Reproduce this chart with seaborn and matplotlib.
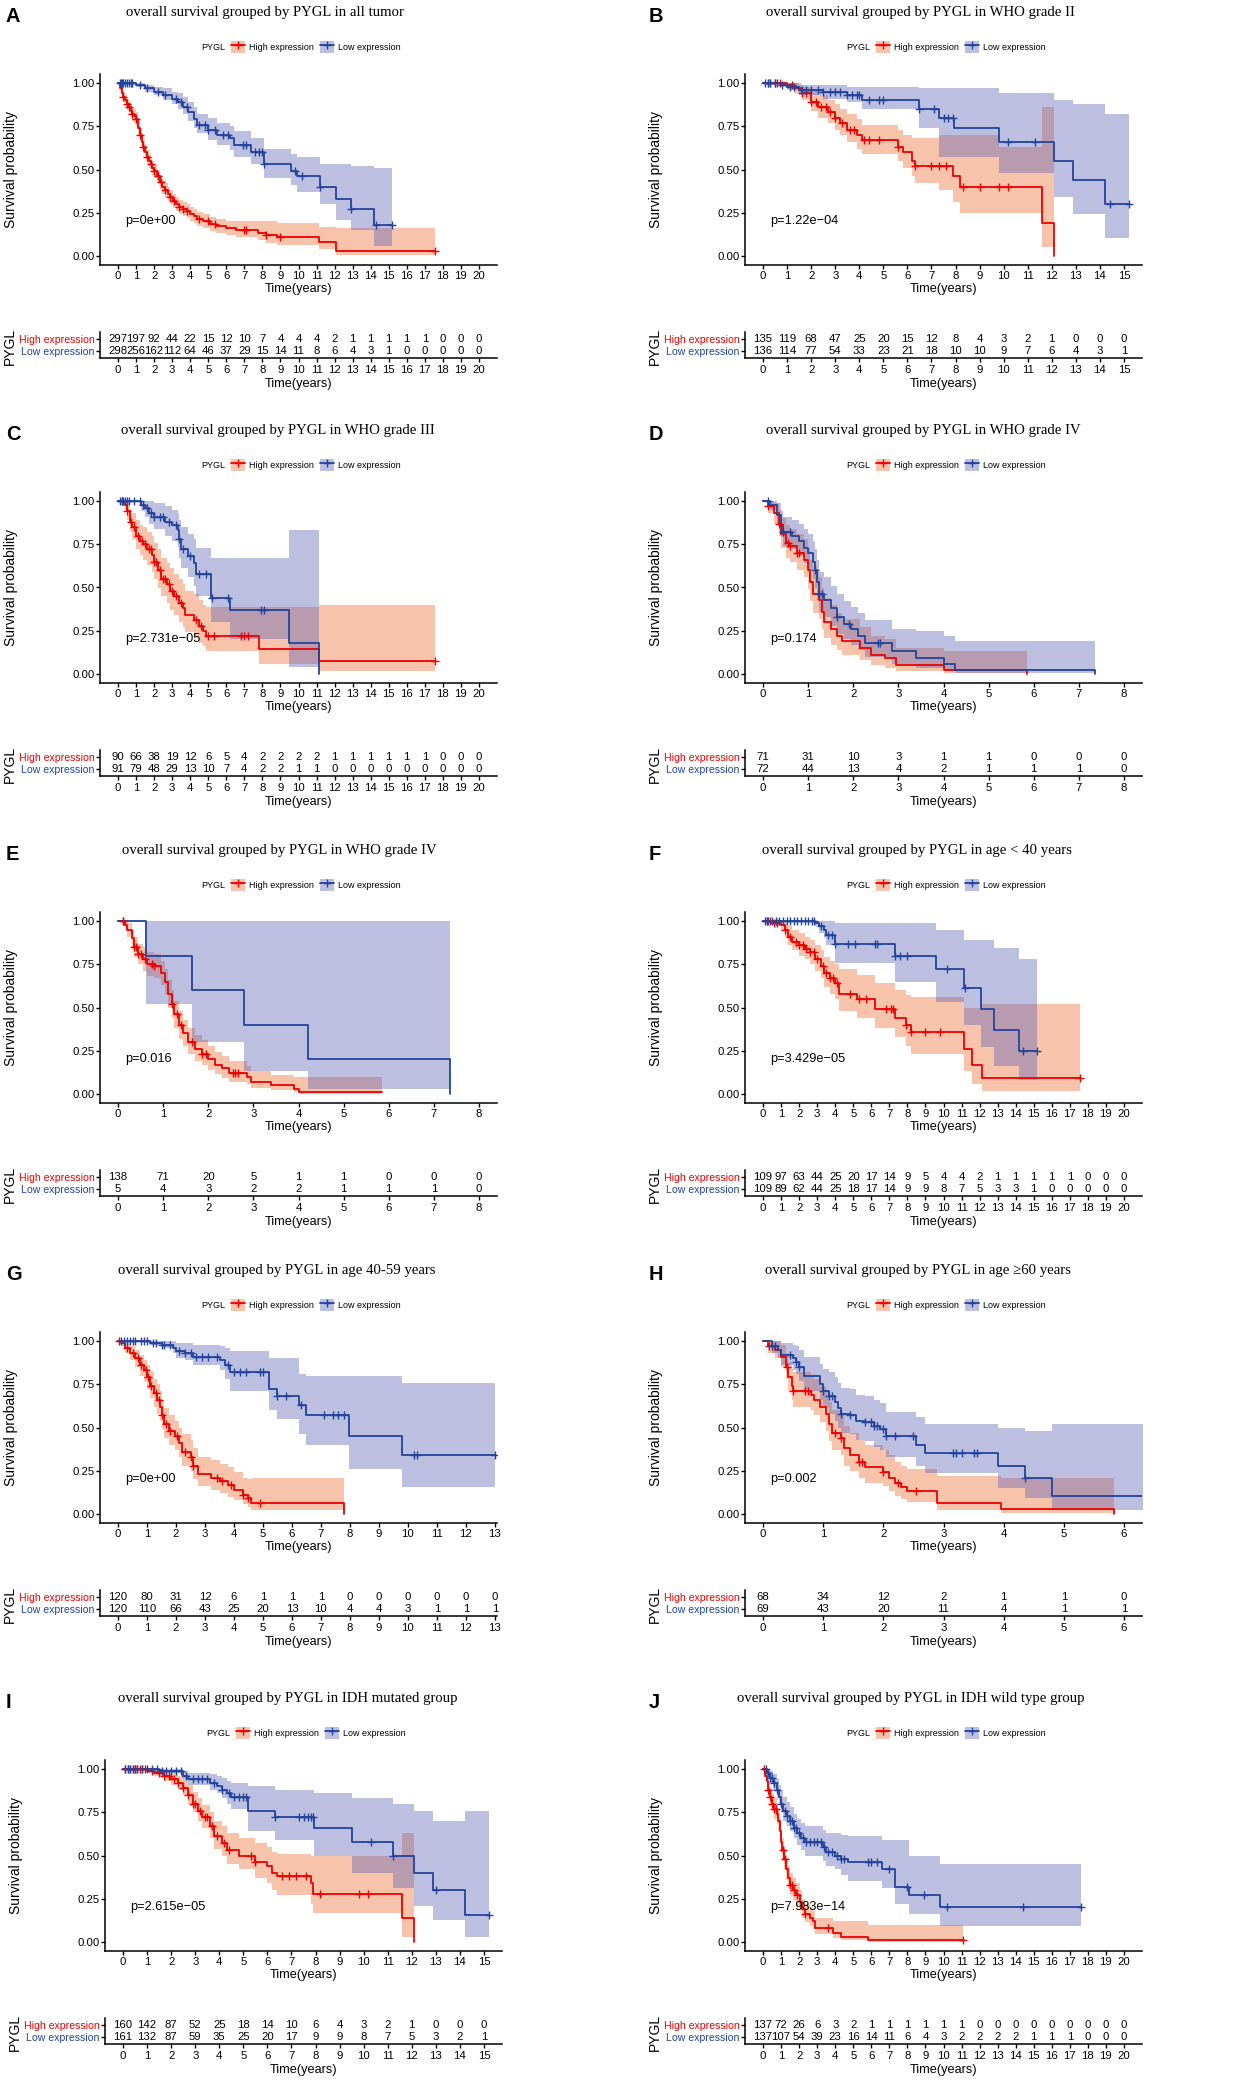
import numpy as np
import matplotlib
matplotlib.use("Agg")
import matplotlib.pyplot as plt
from matplotlib.patches import Patch
from matplotlib.lines import Line2D
import seaborn as sns

# ---------------- data ----------------
# each curve: step times, survival after step, CI lower, CI upper, censor times

# A  all tumor
A_high_t = [0, 0.1, 0.2, 0.3, 0.4, 0.5, 0.6, 0.7, 0.8, 0.9, 1.0, 1.1, 1.2, 1.3, 1.4, 1.5, 1.6, 1.7, 1.8, 1.9, 2.0,
            2.15, 2.3, 2.45, 2.6, 2.75, 2.9, 3.05, 3.2, 3.4, 3.6, 3.8, 4.0, 4.2, 4.4, 4.7, 5.1, 5.45, 6.0, 6.55,
            7.75, 8.2, 8.8, 11.15, 12.1, 17.56]
A_high_s = [1, 0.97, 0.945, 0.92, 0.90, 0.88, 0.86, 0.84, 0.82, 0.81, 0.79, 0.74, 0.70, 0.66, 0.63, 0.60, 0.57, 0.55,
            0.53, 0.51, 0.49, 0.46, 0.43, 0.40, 0.38, 0.36, 0.34, 0.32, 0.30, 0.285, 0.27, 0.26, 0.245, 0.23, 0.215,
            0.20, 0.185, 0.172, 0.16, 0.15, 0.13, 0.12, 0.11, 0.083, 0.03, 0.03]
A_high_lo = [1, 0.95, 0.92, 0.89, 0.87, 0.85, 0.82, 0.80, 0.78, 0.77, 0.75, 0.70, 0.66, 0.62, 0.59, 0.56, 0.53, 0.51,
             0.49, 0.47, 0.45, 0.42, 0.39, 0.36, 0.34, 0.32, 0.30, 0.28, 0.26, 0.245, 0.23, 0.22, 0.205, 0.19, 0.175,
             0.16, 0.145, 0.135, 0.12, 0.11, 0.09, 0.075, 0.065, 0.04, 0.006, 0.006]
A_high_hi = [1, 0.99, 0.97, 0.95, 0.93, 0.91, 0.89, 0.88, 0.86, 0.85, 0.83, 0.78, 0.74, 0.70, 0.67, 0.64, 0.61, 0.59,
             0.57, 0.55, 0.53, 0.50, 0.47, 0.44, 0.42, 0.40, 0.38, 0.36, 0.34, 0.325, 0.31, 0.30, 0.285, 0.27, 0.255,
             0.24, 0.225, 0.215, 0.205, 0.20, 0.20, 0.20, 0.19, 0.165, 0.163, 0.163]
A_high_cens = [0.3, 0.5, 0.6, 0.8, 1.0, 1.2, 1.4, 1.6, 1.8, 2.0, 2.2, 2.4, 2.6, 2.9, 3.1, 3.4, 3.6, 3.8, 4.5, 5.0,
               5.4, 7.0, 7.1, 8.2, 9.0, 17.56]
A_low_t = [0, 1.0, 1.5, 2.0, 2.5, 3.0, 3.3, 3.6, 3.9, 4.2, 4.4, 5.0, 5.5, 6.2, 6.4, 7.35, 8.1, 9.6, 9.9, 11.2, 12.1,
           12.9, 14.2, 15.2]
A_low_s = [1, 0.99, 0.97, 0.95, 0.93, 0.91, 0.89, 0.86, 0.83, 0.79, 0.76, 0.73, 0.70, 0.68, 0.64, 0.60, 0.53, 0.49,
           0.46, 0.40, 0.33, 0.27, 0.18, 0.18]
A_low_lo = [1, 0.98, 0.95, 0.93, 0.90, 0.88, 0.85, 0.82, 0.78, 0.74, 0.71, 0.67, 0.64, 0.61, 0.57, 0.53, 0.45, 0.41,
            0.37, 0.30, 0.21, 0.15, 0.06, 0.06]
A_low_hi = [1, 1, 0.99, 0.98, 0.97, 0.95, 0.94, 0.92, 0.89, 0.86, 0.82, 0.80, 0.77, 0.75, 0.72, 0.68, 0.62, 0.59,
            0.57, 0.53, 0.53, 0.52, 0.51, 0.51]
A_low_cens = [0.1, 0.15, 0.2, 0.3, 0.4, 0.5, 0.6, 0.7, 0.8, 1.2, 1.6, 2.2, 2.6, 3.2, 3.5, 3.8, 4.5, 4.8, 5.0, 5.4,
              5.8, 6.1, 6.9, 7.1, 7.6, 7.8, 8.0, 8.1, 9.8, 10.2, 11.2, 12.9, 14.3, 15.2]
A_risk_high = [297, 197, 92, 44, 22, 15, 12, 10, 7, 4, 4, 4, 2, 1, 1, 1, 1, 1, 0, 0, 0]
A_risk_low = [298, 256, 162, 112, 64, 46, 37, 29, 15, 14, 11, 8, 6, 4, 3, 1, 0, 0, 0, 0, 0]

# B  WHO grade II
B_high_t = [0, 1.0, 1.3, 1.6, 2.0, 2.3, 2.7, 3.0, 3.2, 3.5, 3.9, 4.1, 5.6, 5.8, 6.2, 6.3, 7.3, 7.9, 8.2, 9.8, 11.6, 12.1]
B_high_s = [1, 0.99, 0.97, 0.94, 0.89, 0.86, 0.83, 0.80, 0.77, 0.73, 0.70, 0.67, 0.63, 0.60, 0.55, 0.52, 0.52, 0.46,
            0.40, 0.40, 0.19, 0.0]
B_high_lo = [1, 0.97, 0.94, 0.90, 0.84, 0.80, 0.77, 0.73, 0.70, 0.66, 0.62, 0.59, 0.55, 0.51, 0.46, 0.42, 0.38, 0.31,
             0.25, 0.25, 0.05, 0.0]
B_high_hi = [1, 1, 1, 0.98, 0.95, 0.93, 0.90, 0.88, 0.85, 0.82, 0.79, 0.76, 0.73, 0.70, 0.68, 0.68, 0.70, 0.70,
             0.70, 0.63, 0.86, 0.0]
B_high_cens = [0.2, 0.3, 0.5, 0.7, 1.2, 1.6, 1.8, 2.0, 2.2, 2.4, 2.6, 2.8, 3.0, 3.3, 3.6, 3.8, 4.2, 4.4, 4.8, 5.6,
               6.3, 7.0, 7.3, 7.6, 8.3, 9.0, 9.8, 10.2]
B_low_t = [0, 0.8, 1.0, 1.5, 2.5, 3.5, 4.1, 6.5, 7.3, 7.95, 9.8, 12.1, 12.9, 14.2, 15.2]
B_low_s = [1, 0.99, 0.98, 0.96, 0.95, 0.93, 0.90, 0.85, 0.80, 0.74, 0.66, 0.55, 0.44, 0.30, 0.30]
B_low_lo = [1, 0.98, 0.96, 0.93, 0.91, 0.89, 0.85, 0.74, 0.57, 0.57, 0.48, 0.34, 0.24, 0.105, 0.105]
B_low_hi = [1, 1, 1, 0.99, 0.99, 0.98, 0.975, 0.97, 0.97, 0.97, 0.94, 0.90, 0.88, 0.82, 0.82]
B_low_cens = [0.1, 0.2, 0.3, 0.5, 0.6, 0.8, 1.1, 1.3, 1.6, 1.8, 2.0, 2.3, 2.5, 2.8, 3.0, 3.2, 3.5, 3.7, 3.9, 4.0,
              4.4, 4.8, 5.0, 6.5, 7.1, 7.5, 7.7, 7.9, 10.2, 11.3, 14.4, 15.2]
B_risk_high = [135, 119, 68, 47, 25, 20, 15, 12, 8, 4, 3, 2, 1, 0, 0, 0]
B_risk_low = [136, 114, 77, 54, 33, 23, 21, 18, 10, 10, 9, 7, 6, 4, 3, 1]

# C  WHO grade III
C_high_t = [0, 0.4, 0.5, 0.65, 0.8, 1.0, 1.2, 1.4, 1.6, 1.9, 2.0, 2.2, 2.4, 2.7, 2.9, 3.1, 3.4, 3.6, 3.7, 4.2, 4.5,
            4.7, 4.9, 7.8, 11.15, 17.56]
C_high_s = [1, 0.98, 0.94, 0.88, 0.85, 0.80, 0.77, 0.75, 0.72, 0.69, 0.65, 0.60, 0.55, 0.52, 0.48, 0.45, 0.41, 0.38,
            0.34, 0.31, 0.28, 0.25, 0.22, 0.145, 0.075, 0.075]
C_high_lo = [1, 0.95, 0.89, 0.82, 0.78, 0.72, 0.69, 0.66, 0.63, 0.59, 0.55, 0.50, 0.45, 0.41, 0.37, 0.34, 0.30, 0.27,
             0.24, 0.21, 0.18, 0.16, 0.13, 0.055, 0.015, 0.015]
C_high_hi = [1, 1, 0.99, 0.95, 0.93, 0.89, 0.86, 0.85, 0.82, 0.80, 0.76, 0.72, 0.67, 0.64, 0.61, 0.58, 0.55, 0.52,
             0.48, 0.46, 0.43, 0.40, 0.39, 0.39, 0.40, 0.40]
C_high_cens = [0.2, 0.5, 0.7, 0.9, 1.1, 1.3, 1.5, 1.7, 1.8, 2.0, 2.1, 2.3, 2.5, 2.6, 2.8, 3.0, 3.2, 3.5, 4.3, 4.6,
               5.0, 5.3, 6.8, 7.0, 7.2, 17.56]
C_low_t = [0, 1.25, 1.5, 1.7, 2.0, 2.6, 3.0, 3.3, 3.4, 3.5, 3.9, 4.2, 4.3, 5.15, 6.2, 9.5, 11.15]
C_low_s = [1, 0.98, 0.96, 0.93, 0.91, 0.88, 0.86, 0.83, 0.78, 0.72, 0.68, 0.64, 0.58, 0.44, 0.37, 0.18, 0.0]
C_low_lo = [1, 0.94, 0.91, 0.87, 0.84, 0.80, 0.77, 0.73, 0.67, 0.61, 0.56, 0.51, 0.45, 0.30, 0.20, 0.04, 0.0]
C_low_hi = [1, 1, 1, 1, 0.99, 0.97, 0.95, 0.93, 0.89, 0.85, 0.81, 0.78, 0.73, 0.67, 0.67, 0.83, 0.0]
C_low_cens = [0.1, 0.2, 0.3, 0.4, 0.5, 0.6, 0.9, 1.2, 1.4, 1.6, 1.8, 2.0, 2.3, 2.5, 2.8, 3.2, 3.4, 3.6, 4.0, 4.5,
              4.9, 5.2, 6.1, 7.9, 8.1]
C_risk_high = [90, 66, 38, 19, 12, 6, 5, 4, 2, 2, 2, 2, 1, 1, 1, 1, 1, 1, 0, 0, 0]
C_risk_low = [91, 79, 48, 29, 13, 10, 7, 4, 2, 2, 1, 1, 0, 0, 0, 0, 0, 0, 0, 0, 0]

# D  WHO grade IV
D_high_t = [0, 0.1, 0.25, 0.35, 0.4, 0.5, 0.6, 0.75, 0.9, 1.0, 1.05, 1.1, 1.25, 1.3, 1.35, 1.5, 1.65, 1.75, 2.15,
            2.4, 2.7, 2.95, 4.0, 5.85]
D_high_s = [1, 0.97, 0.93, 0.87, 0.81, 0.76, 0.74, 0.70, 0.66, 0.60, 0.53, 0.46, 0.43, 0.36, 0.30, 0.26, 0.22, 0.19,
            0.15, 0.11, 0.09, 0.05, 0.02, 0.0]
D_high_lo = [1, 0.93, 0.87, 0.80, 0.73, 0.67, 0.65, 0.60, 0.56, 0.49, 0.42, 0.35, 0.32, 0.26, 0.21, 0.17, 0.14, 0.11,
             0.08, 0.05, 0.035, 0.015, 0.004, 0.0]
D_high_hi = [1, 1, 0.99, 0.95, 0.90, 0.86, 0.84, 0.81, 0.78, 0.73, 0.66, 0.59, 0.56, 0.50, 0.44, 0.40, 0.35, 0.32,
             0.27, 0.22, 0.20, 0.15, 0.13, 0.0]
D_high_cens = [0.1, 0.35, 0.55, 0.6, 0.75, 0.8]
D_low_t = [0, 0.15, 0.3, 0.4, 0.45, 0.65, 0.8, 0.9, 1.0, 1.1, 1.15, 1.2, 1.25, 1.35, 1.5, 1.65, 1.8, 1.95, 2.1, 2.25,
           2.85, 3.4, 4.0, 4.25, 7.35]
D_low_s = [1, 0.98, 0.92, 0.86, 0.82, 0.80, 0.77, 0.73, 0.70, 0.65, 0.60, 0.53, 0.46, 0.43, 0.38, 0.33, 0.29, 0.26,
           0.22, 0.18, 0.13, 0.09, 0.055, 0.025, 0.0]
D_low_lo = [1, 0.95, 0.86, 0.79, 0.74, 0.72, 0.68, 0.64, 0.60, 0.55, 0.50, 0.43, 0.36, 0.33, 0.28, 0.23, 0.20, 0.17,
            0.14, 0.10, 0.06, 0.035, 0.015, 0.004, 0.0]
D_low_hi = [1, 1, 0.99, 0.94, 0.91, 0.89, 0.87, 0.84, 0.81, 0.77, 0.72, 0.66, 0.59, 0.56, 0.51, 0.46, 0.42, 0.39,
            0.35, 0.31, 0.26, 0.25, 0.22, 0.19, 0.0]
D_low_cens = [0.1, 0.45, 0.6, 1.15, 1.25, 1.3, 1.65, 1.9, 2.55, 2.6]
D_risk_high = [71, 31, 10, 3, 1, 1, 0, 0, 0]
D_risk_low = [72, 44, 13, 4, 2, 1, 1, 1, 0]

# E  WHO grade IV (second cohort)
E_high_t = [0, 0.15, 0.2, 0.3, 0.35, 0.45, 0.55, 0.65, 0.8, 0.95, 1.05, 1.1, 1.2, 1.25, 1.35, 1.45, 1.55, 1.7, 1.85,
            2.0, 2.15, 2.3, 2.45, 2.85, 2.95, 3.4, 3.9, 4.0, 5.85]
E_high_s = [1, 0.98, 0.95, 0.90, 0.85, 0.81, 0.78, 0.75, 0.74, 0.70, 0.65, 0.58, 0.52, 0.46, 0.40, 0.35, 0.30, 0.26,
            0.23, 0.20, 0.17, 0.15, 0.12, 0.10, 0.07, 0.05, 0.03, 0.01, 0.01]
E_high_lo = [1, 0.96, 0.91, 0.85, 0.79, 0.75, 0.71, 0.68, 0.67, 0.63, 0.57, 0.50, 0.44, 0.38, 0.32, 0.28, 0.23, 0.19,
             0.17, 0.14, 0.115, 0.095, 0.07, 0.055, 0.035, 0.02, 0.01, 0.002, 0.002]
E_high_hi = [1, 1, 0.99, 0.95, 0.91, 0.87, 0.85, 0.82, 0.81, 0.77, 0.72, 0.66, 0.60, 0.54, 0.48, 0.43, 0.38, 0.34,
             0.31, 0.28, 0.24, 0.22, 0.19, 0.16, 0.13, 0.11, 0.10, 0.10, 0.10]
E_high_cens = [0.1, 0.12, 0.35, 0.4, 0.45, 0.5, 0.6, 0.75, 0.8, 1.2, 1.3, 1.4, 1.65, 1.85, 1.95, 2.55, 2.6, 2.65]
E_low_t = [0, 0.63, 1.65, 2.8, 4.2, 7.35]
E_low_s = [1, 0.8, 0.6, 0.4, 0.2, 0.0]
E_low_lo = [1, 0.52, 0.30, 0.135, 0.03, 0.0]
E_low_hi = [1, 1, 1, 1, 1, 0.0]
E_low_cens = []
E_risk_high = [138, 71, 20, 5, 1, 1, 0, 0, 0]
E_risk_low = [5, 4, 3, 2, 2, 1, 1, 1, 0]

# F  age < 40
F_high_t = [0, 0.6, 1.0, 1.2, 1.4, 1.6, 2.0, 2.3, 2.6, 2.9, 3.2, 3.4, 3.7, 4.0, 4.2, 5.2, 6.2, 7.3, 7.9, 8.2,
            11.15, 11.6, 12.15, 17.56]
F_high_s = [1, 0.99, 0.98, 0.95, 0.91, 0.88, 0.86, 0.84, 0.82, 0.78, 0.74, 0.70, 0.67, 0.64, 0.58, 0.55, 0.49, 0.44,
            0.40, 0.36, 0.26, 0.17, 0.09, 0.09]
F_high_lo = [1, 0.97, 0.95, 0.91, 0.86, 0.83, 0.80, 0.78, 0.75, 0.71, 0.67, 0.62, 0.58, 0.55, 0.48, 0.44, 0.38, 0.33,
             0.28, 0.23, 0.13, 0.06, 0.015, 0.015]
F_high_hi = [1, 1, 1, 0.99, 0.97, 0.95, 0.93, 0.91, 0.89, 0.86, 0.83, 0.79, 0.77, 0.75, 0.72, 0.69, 0.64, 0.60,
             0.57, 0.56, 0.50, 0.50, 0.52, 0.52]
F_high_cens = [0.2, 0.4, 0.6, 0.8, 1.2, 1.5, 1.8, 2.0, 2.2, 2.4, 2.6, 2.8, 3.0, 3.3, 3.5, 3.7, 3.9, 4.1, 4.8, 5.3,
               5.7, 6.8, 7.1, 7.2, 7.9, 8.2, 9.0, 9.8, 17.56]
F_low_t = [0, 2.9, 3.1, 3.4, 3.5, 4.0, 7.3, 9.6, 11.15, 12.1, 12.8, 14.2, 15.2]
F_low_s = [1, 0.99, 0.97, 0.95, 0.92, 0.87, 0.80, 0.72, 0.61, 0.49, 0.37, 0.25, 0.25]
F_low_lo = [1, 0.97, 0.93, 0.90, 0.86, 0.76, 0.65, 0.53, 0.40, 0.27, 0.16, 0.08, 0.08]
F_low_hi = [1, 1, 1, 1, 1, 0.99, 0.99, 0.95, 0.89, 0.89, 0.845, 0.78, 0.78]
F_low_cens = [0.1, 0.2, 0.3, 0.5, 0.7, 0.9, 1.1, 1.3, 1.5, 1.7, 1.9, 2.1, 2.3, 2.5, 2.7, 2.8, 3.2, 3.6, 3.8, 4.0,
              4.7, 5.1, 6.2, 6.3, 7.3, 7.6, 8.0, 10.2, 11.2, 14.4, 15.2]
F_risk_high = [109, 97, 63, 44, 25, 20, 17, 14, 9, 5, 4, 4, 2, 1, 1, 1, 1, 1, 0, 0, 0]
F_risk_low = [109, 89, 62, 44, 25, 18, 17, 14, 9, 9, 8, 7, 5, 3, 3, 1, 0, 0, 0, 0, 0]

# G  age 40-59
G_high_t = [0, 0.1, 0.25, 0.4, 0.6, 0.75, 0.9, 1.0, 1.1, 1.25, 1.35, 1.45, 1.5, 1.6, 1.75, 1.95, 2.1, 2.2, 2.5, 2.6,
            2.75, 3.2, 3.5, 3.8, 4.0, 4.3, 4.5, 4.6, 7.8]
G_high_s = [1, 0.99, 0.96, 0.93, 0.90, 0.86, 0.83, 0.79, 0.74, 0.70, 0.66, 0.62, 0.57, 0.52, 0.48, 0.45, 0.41, 0.36,
            0.33, 0.28, 0.23, 0.21, 0.19, 0.17, 0.14, 0.11, 0.09, 0.065, 0.0]
G_high_lo = [1, 0.97, 0.93, 0.89, 0.85, 0.80, 0.77, 0.72, 0.67, 0.62, 0.58, 0.54, 0.49, 0.44, 0.40, 0.37, 0.33, 0.28,
             0.25, 0.20, 0.16, 0.14, 0.12, 0.10, 0.08, 0.055, 0.04, 0.02, 0.0]
G_high_hi = [1, 1, 0.99, 0.97, 0.95, 0.92, 0.89, 0.86, 0.82, 0.78, 0.75, 0.71, 0.66, 0.61, 0.57, 0.54, 0.50, 0.46,
             0.43, 0.38, 0.33, 0.31, 0.29, 0.27, 0.24, 0.21, 0.20, 0.21, 0.0]
G_high_cens = [0.05, 0.3, 0.5, 0.7, 0.8, 0.95, 1.05, 1.15, 1.3, 1.4, 1.5, 1.65, 1.8, 2.05, 2.3, 2.5, 2.6, 3.4, 3.6,
               3.9, 4.3, 4.5, 4.9]
G_low_t = [0, 1.1, 1.5, 1.9, 2.0, 2.3, 2.6, 3.5, 3.7, 3.85, 5.2, 5.5, 6.25, 6.5, 7.95, 9.8, 13.0]
G_low_s = [1, 0.99, 0.98, 0.96, 0.94, 0.93, 0.91, 0.89, 0.86, 0.82, 0.72, 0.68, 0.63, 0.57, 0.45, 0.34, 0.34]
G_low_lo = [1, 0.98, 0.96, 0.93, 0.90, 0.89, 0.86, 0.83, 0.78, 0.71, 0.60, 0.55, 0.46, 0.40, 0.26, 0.155, 0.155]
G_low_hi = [1, 1, 1, 1, 0.99, 0.99, 0.98, 0.97, 0.96, 0.94, 0.90, 0.90, 0.81, 0.80, 0.80, 0.76, 0.76]
G_low_cens = [0.1, 0.2, 0.3, 0.4, 0.5, 0.6, 0.8, 0.9, 1.0, 1.2, 1.3, 1.5, 1.6, 1.8, 2.1, 2.3, 2.5, 2.7, 2.9, 3.1,
              3.4, 3.8, 4.0, 4.2, 4.4, 4.9, 5.0, 5.5, 5.8, 6.3, 7.1, 7.4, 7.6, 7.8, 10.2, 10.3, 13.0]
G_risk_high = [120, 80, 31, 12, 6, 1, 1, 1, 0, 0, 0, 0, 0, 0]
G_risk_low = [120, 110, 66, 43, 25, 20, 13, 10, 4, 4, 3, 1, 1, 1]

# H  age >= 60
H_high_t = [0, 0.08, 0.2, 0.3, 0.38, 0.42, 0.48, 0.5, 0.8, 0.85, 0.95, 1.05, 1.1, 1.15, 1.3, 1.35, 1.45, 1.6, 1.7,
            2.0, 2.1, 2.2, 2.3, 2.4, 2.9, 3.95, 5.83]
H_high_s = [1, 0.97, 0.95, 0.91, 0.85, 0.79, 0.74, 0.71, 0.69, 0.66, 0.62, 0.58, 0.52, 0.47, 0.44, 0.38, 0.34, 0.30,
            0.27, 0.24, 0.21, 0.18, 0.155, 0.135, 0.065, 0.03, 0.0]
H_high_lo = [1, 0.93, 0.90, 0.85, 0.78, 0.71, 0.66, 0.62, 0.60, 0.57, 0.53, 0.48, 0.42, 0.37, 0.34, 0.28, 0.25, 0.21,
             0.18, 0.16, 0.13, 0.105, 0.085, 0.07, 0.02, 0.005, 0.0]
H_high_hi = [1, 1, 1, 0.98, 0.93, 0.88, 0.84, 0.82, 0.80, 0.78, 0.74, 0.70, 0.65, 0.60, 0.57, 0.51, 0.47, 0.43,
             0.40, 0.37, 0.34, 0.30, 0.28, 0.26, 0.22, 0.21, 0.0]
H_high_cens = [0.1, 0.4, 0.5, 0.7, 0.75, 1.2, 1.3, 1.6, 1.65, 2.0, 2.25, 2.55]
H_low_t = [0, 0.15, 0.25, 0.3, 0.5, 0.55, 0.6, 0.68, 0.95, 1.0, 1.1, 1.2, 1.25, 1.3, 1.45, 1.55, 1.7, 1.85, 1.95,
           2.05, 2.55, 2.7, 3.9, 4.35, 4.8, 6.4]
H_low_s = [1, 0.97, 0.95, 0.92, 0.90, 0.88, 0.85, 0.80, 0.75, 0.71, 0.68, 0.65, 0.61, 0.58, 0.57, 0.54, 0.53, 0.51,
           0.49, 0.45, 0.40, 0.35, 0.28, 0.21, 0.105, 0.105]
H_low_lo = [1, 0.93, 0.90, 0.86, 0.83, 0.81, 0.77, 0.71, 0.66, 0.61, 0.58, 0.54, 0.50, 0.47, 0.46, 0.43, 0.42, 0.39,
            0.37, 0.33, 0.28, 0.235, 0.15, 0.09, 0.02, 0.02]
H_low_hi = [1, 1, 1, 0.99, 0.98, 0.97, 0.95, 0.91, 0.87, 0.84, 0.82, 0.79, 0.76, 0.73, 0.72, 0.69, 0.68, 0.66, 0.64,
            0.59, 0.56, 0.52, 0.50, 0.48, 0.52, 0.52]
H_low_cens = [0.15, 0.2, 0.45, 0.55, 0.6, 1.0, 1.1, 1.15, 1.3, 1.45, 1.7, 1.8, 1.85, 1.9, 2.0, 2.05, 2.2, 2.5, 3.15,
              3.2, 3.3, 3.5, 3.55, 4.35]
H_risk_high = [68, 34, 12, 2, 1, 1, 0]
H_risk_low = [69, 43, 20, 11, 4, 1, 1]

# I  IDH mutated
I_high_t = [0, 1.0, 1.3, 1.7, 2.0, 2.3, 2.5, 2.7, 2.9, 3.1, 3.3, 3.6, 3.8, 4.1, 4.3, 4.8, 5.5, 6.0, 6.2, 6.4, 7.8,
            7.9, 11.6, 12.1]
I_high_s = [1, 0.99, 0.98, 0.96, 0.94, 0.92, 0.89, 0.85, 0.80, 0.76, 0.72, 0.67, 0.61, 0.57, 0.53, 0.50, 0.46, 0.44,
            0.40, 0.38, 0.34, 0.28, 0.14, 0.0]
I_high_lo = [1, 0.98, 0.96, 0.93, 0.91, 0.88, 0.85, 0.80, 0.75, 0.70, 0.66, 0.60, 0.54, 0.50, 0.45, 0.42, 0.37, 0.34,
             0.30, 0.27, 0.22, 0.165, 0.03, 0.0]
I_high_hi = [1, 1, 1, 0.99, 0.98, 0.96, 0.94, 0.91, 0.87, 0.83, 0.79, 0.75, 0.70, 0.67, 0.63, 0.60, 0.57, 0.55,
             0.52, 0.51, 0.50, 0.50, 0.63, 0.0]
I_high_cens = [0.1, 0.2, 0.3, 0.4, 0.5, 0.6, 0.7, 0.8, 0.9, 1.2, 1.5, 1.7, 1.9, 2.1, 2.3, 2.5, 2.7, 2.9, 3.0, 3.2,
               3.4, 3.5, 3.7, 3.9, 4.2, 4.4, 5.3, 5.5, 6.6, 6.9, 7.2, 7.6, 8.2, 9.8, 10.2]
I_low_t = [0, 1.5, 2.5, 2.7, 3.6, 3.9, 4.1, 4.3, 4.5, 5.2, 6.3, 7.95, 9.5, 11.2, 12.1, 12.9, 14.2, 15.2]
I_low_s = [1, 0.99, 0.96, 0.94, 0.92, 0.90, 0.88, 0.86, 0.84, 0.76, 0.72, 0.66, 0.58, 0.50, 0.40, 0.30, 0.155, 0.155]
I_low_lo = [1, 0.98, 0.94, 0.91, 0.88, 0.86, 0.83, 0.80, 0.77, 0.64, 0.59, 0.50, 0.40, 0.31, 0.21, 0.125, 0.03, 0.03]
I_low_hi = [1, 1, 0.99, 0.98, 0.97, 0.96, 0.95, 0.93, 0.92, 0.90, 0.88, 0.86, 0.83, 0.80, 0.76, 0.70, 0.76, 0.76]
I_low_cens = [0.1, 0.2, 0.3, 0.4, 0.5, 0.6, 0.8, 1.0, 1.2, 1.4, 1.6, 1.8, 2.0, 2.2, 2.4, 2.6, 2.9, 3.1, 3.3, 3.5,
              3.8, 4.1, 4.4, 4.6, 4.8, 5.0, 5.1, 6.3, 7.3, 7.5, 7.7, 7.8, 7.9, 10.3, 11.2, 13.0, 15.2]
I_risk_high = [160, 142, 87, 52, 25, 18, 14, 10, 6, 4, 3, 2, 1, 0, 0, 0]
I_risk_low = [161, 132, 87, 59, 35, 25, 20, 17, 9, 9, 8, 7, 5, 3, 2, 1]

# J  IDH wild type
J_high_t = [0, 0.1, 0.2, 0.3, 0.4, 0.5, 0.6, 0.75, 0.85, 0.95, 1.0, 1.05, 1.15, 1.25, 1.4, 1.5, 1.65, 1.85, 2.05,
            2.15, 2.3, 2.6, 2.75, 2.9, 3.85, 4.3, 5.8, 11.1]
J_high_s = [1, 0.96, 0.93, 0.88, 0.84, 0.80, 0.77, 0.74, 0.70, 0.64, 0.58, 0.53, 0.48, 0.42, 0.37, 0.33, 0.30, 0.27,
            0.23, 0.19, 0.16, 0.14, 0.12, 0.08, 0.05, 0.03, 0.01, 0.01]
J_high_lo = [1, 0.93, 0.89, 0.83, 0.79, 0.75, 0.71, 0.68, 0.64, 0.58, 0.52, 0.47, 0.42, 0.36, 0.31, 0.27, 0.24, 0.21,
             0.18, 0.14, 0.115, 0.095, 0.075, 0.045, 0.02, 0.01, 0.002, 0.002]
J_high_hi = [1, 0.99, 0.97, 0.93, 0.89, 0.86, 0.83, 0.80, 0.77, 0.71, 0.65, 0.60, 0.55, 0.49, 0.44, 0.40, 0.37, 0.34,
             0.30, 0.25, 0.22, 0.20, 0.18, 0.14, 0.12, 0.12, 0.10, 0.10]
J_high_cens = [0.05, 0.3, 0.4, 0.5, 0.6, 0.7, 1.1, 1.2, 1.5, 1.6, 1.7, 1.9, 2.3, 3.6, 11.1]
J_low_t = [0, 0.2, 0.4, 0.55, 0.75, 0.9, 1.0, 1.1, 1.3, 1.5, 1.7, 1.9, 2.1, 2.3, 3.3, 3.5, 4.0, 4.3, 4.7, 6.6, 7.3,
           8.1, 9.8, 17.6]
J_low_s = [1, 0.98, 0.95, 0.92, 0.88, 0.84, 0.80, 0.76, 0.73, 0.70, 0.66, 0.63, 0.60, 0.58, 0.55, 0.52, 0.50, 0.48,
           0.46, 0.42, 0.32, 0.27, 0.20, 0.20]
J_low_lo = [1, 0.96, 0.92, 0.88, 0.83, 0.79, 0.75, 0.70, 0.67, 0.64, 0.60, 0.56, 0.53, 0.50, 0.47, 0.44, 0.42, 0.39,
            0.35, 0.31, 0.22, 0.16, 0.09, 0.09]
J_low_hi = [1, 1, 0.99, 0.97, 0.94, 0.91, 0.88, 0.84, 0.81, 0.78, 0.74, 0.71, 0.69, 0.67, 0.65, 0.63, 0.63, 0.62,
            0.61, 0.59, 0.59, 0.50, 0.45, 0.45]
J_low_cens = [0.15, 0.3, 0.4, 0.5, 0.6, 0.8, 1.0, 1.2, 1.3, 1.5, 1.6, 1.7, 1.8, 2.0, 2.2, 2.4, 2.6, 2.8, 3.0, 3.2,
              3.4, 3.6, 3.8, 4.1, 4.3, 4.5, 5.8, 6.0, 6.3, 7.0, 8.0, 8.9, 10.2, 14.4, 17.6]
J_risk_high = [137, 72, 26, 6, 3, 2, 1, 1, 1, 1, 1, 1, 0, 0, 0, 0, 0, 0, 0, 0, 0]
J_risk_low = [137, 107, 54, 39, 23, 16, 14, 11, 6, 4, 3, 2, 2, 2, 2, 1, 1, 1, 0, 0, 0]

TITLES = [
    "overall survival grouped by PYGL in all tumor",
    "overall survival grouped by PYGL in WHO grade II",
    "overall survival grouped by PYGL in WHO grade III",
    "overall survival grouped by PYGL in WHO grade IV",
    "overall survival grouped by PYGL in WHO grade IV",
    "overall survival grouped by PYGL in age < 40 years",
    "overall survival grouped by PYGL in age 40-59 years",
    "overall survival grouped by PYGL in age \u226560 years",
    "overall survival grouped by PYGL in IDH mutated group",
    "overall survival grouped by PYGL in IDH wild type group",
]
P_VALUES = ["p=0e+00", "p=1.22e\u221204", "p=2.731e\u221205", "p=0.174", "p=0.016",
            "p=3.429e\u221205", "p=0e+00", "p=0.002", "p=2.615e\u221205", "p=7.983e\u221214"]
XTICK_MAX = [20, 15, 20, 8, 8, 20, 13, 6, 15, 20]
XLIM_BASE = [20, 15, 20, 8, 8, 20, 12.45, 6, 15, 20]
LETTERS = "ABCDEFGHIJ"

# ---------------- style ----------------
HIGH_LINE, LOW_LINE = "#EE0000", "#22449C"
HIGH_FILL, LOW_FILL = "#EB6B2F", "#5C61B6"
FILL_ALPHA = 0.4

sns.set_theme(style="ticks", rc={
    "axes.edgecolor": "black", "axes.linewidth": 1.1,
    "xtick.color": "black", "ytick.color": "black", "text.color": "black",
    "axes.labelcolor": "black", "xtick.major.size": 3, "ytick.major.size": 3,
    "xtick.major.width": 1.0, "ytick.major.width": 1.0,
    "xtick.major.pad": 1.5, "ytick.major.pad": 1.0,
})
plt.rcParams["font.family"] = ["Liberation Sans", "DejaVu Sans"]
SERIF = ["Liberation Serif", "DejaVu Serif"]

W, H = 1246, 2083
ROW_TOP = [0, 418, 838, 1258, 1686]
AX_LEFT = [100, 745]
AX_W = 397
TITLE_X = [265, 920, 278, 923, 279, 917, 277, 918, 288, 911]
LEG_FS = 6.5


def px_rect(left, top, width, height):
    return [left / W, 1 - (top + height) / H, width / W, height / H]


def surv_at(t, s, times):
    idx = np.searchsorted(np.asarray(t), np.asarray(times, dtype=float), side="right") - 1
    return np.asarray(s)[idx]


fig = plt.figure(figsize=(W / 100, H / 100), dpi=100)
fig.patch.set_facecolor("white")

g = globals()
for k, letter in enumerate(LETTERS):
    row, col = divmod(k, 2)
    r = ROW_TOP[row]
    left = AX_LEFT[col] + (5 if letter == "I" else 0)
    xmax = XTICK_MAX[k]
    base = XLIM_BASE[k]
    xlim = (-0.05 * base, 1.05 * base)

    ax = fig.add_axes(px_rect(left, r + 74.4, AX_W, 190.2))
    rax = fig.add_axes(px_rect(left, r + 332, AX_W, 26.4))

    groups = [("high", HIGH_LINE, HIGH_FILL), ("low", LOW_LINE, LOW_FILL)]
    for grp, lc, fc in groups:
        ax.fill_between(g[f"{letter}_{grp}_t"], g[f"{letter}_{grp}_lo"], g[f"{letter}_{grp}_hi"],
                        step="post", color=fc, alpha=FILL_ALPHA, linewidth=0)
    for grp, lc, fc in groups:
        t = g[f"{letter}_{grp}_t"]
        s = g[f"{letter}_{grp}_s"]
        sns.lineplot(x=t, y=s, drawstyle="steps-post", estimator=None, color=lc,
                     linewidth=1.3, ax=ax, legend=False)
        cens = g[f"{letter}_{grp}_cens"]
        if len(cens):
            sns.scatterplot(x=cens, y=surv_at(t, s, cens), marker="+", s=26, color=lc,
                            linewidth=1.0, ax=ax, legend=False, zorder=4)

    ax.set_xlim(xlim)
    ax.set_ylim(-0.05, 1.05)
    ax.set_xticks(range(0, xmax + 1))
    ax.set_yticks([0, 0.25, 0.5, 0.75, 1.0])
    ax.set_yticklabels(["0.00", "0.25", "0.50", "0.75", "1.00"])
    ax.tick_params(labelsize=8.2)
    ax.set_xlabel("Time(years)", fontsize=9.2)
    ax.xaxis.set_label_coords(0.5, -0.098)
    ax.set_ylabel("Survival probability", fontsize=10)
    ax.yaxis.set_label_coords(-0.2065, 0.5)
    ax.text(0.02 * xmax, 0.2, P_VALUES[k], fontsize=9.2, ha="left", va="center")
    sns.despine(ax=ax)

    # risk table
    rax.set_xlim(xlim)
    rax.set_ylim(0.4, 2.6)
    rax.set_xticks(range(0, xmax + 1))
    rax.set_yticks([2, 1])
    rax.set_yticklabels(["High expression", "Low expression"])
    rax.tick_params(axis="x", labelsize=8.2)
    rax.tick_params(axis="y", labelsize=7.6)
    tl = rax.get_yticklabels()
    tl[0].set_color(HIGH_LINE)
    tl[1].set_color(LOW_LINE)
    for i, (nh, nl) in enumerate(zip(g[f"{letter}_risk_high"], g[f"{letter}_risk_low"])):
        rax.text(i, 2, str(nh), ha="center", va="center", fontsize=8.2)
        rax.text(i, 1, str(nl), ha="center", va="center", fontsize=8.2)
    rax.set_xlabel("Time(years)", fontsize=9.2)
    rax.xaxis.set_label_coords(0.5, -0.74)
    rax.set_ylabel("PYGL", fontsize=10)
    rax.yaxis.set_label_coords(-0.209, 0.45)
    sns.despine(ax=rax)

    # title, letter, legend
    fig.text(TITLE_X[k] / W, 1 - (r + 15.7) / H, TITLES[k], ha="center", va="baseline",
             family=SERIF, fontsize=10.6)
    fig.text((6 if col == 0 else 649) / W, 1 - (r + 22.5) / H, letter, ha="left", va="baseline",
             fontweight="bold", fontsize=14.4)
    fig.text((left + 125) / W, 1 - (r + 47) / H, "PYGL", ha="right", va="center", fontsize=LEG_FS)
    handles = [
        (Patch(facecolor=HIGH_FILL, alpha=FILL_ALPHA, edgecolor="none"),
         Line2D([], [], color=HIGH_LINE, lw=1.3, marker="+", markersize=6, markeredgewidth=1.0)),
        (Patch(facecolor=LOW_FILL, alpha=FILL_ALPHA, edgecolor="none"),
         Line2D([], [], color=LOW_LINE, lw=1.3, marker="+", markersize=6, markeredgewidth=1.0)),
    ]
    fig.legend(handles=handles, labels=["High expression", "Low expression"], loc="center left",
               bbox_to_anchor=((left + 131) / W, 1 - (r + 47) / H), ncol=2, frameon=False,
               fontsize=LEG_FS, handlelength=1.55, handleheight=1.78, handletextpad=0.45,
               columnspacing=0.67, borderpad=0, borderaxespad=0)

fig.savefig("out.png", dpi=100)
